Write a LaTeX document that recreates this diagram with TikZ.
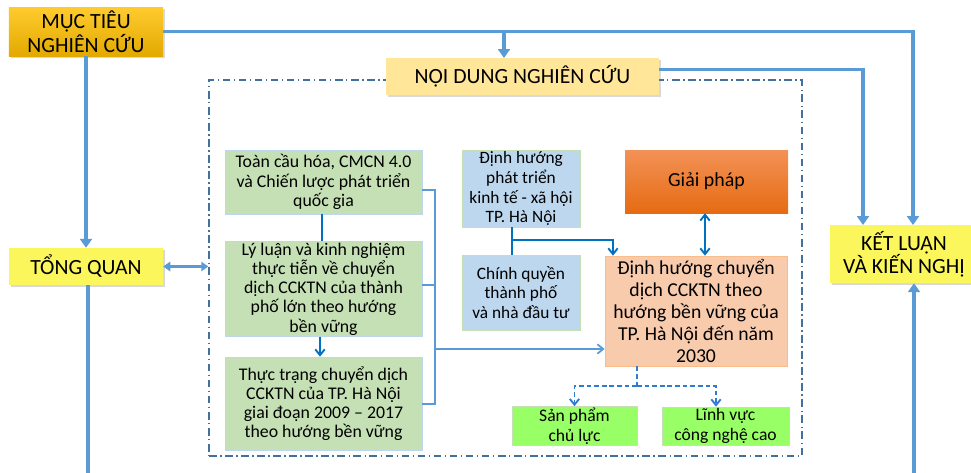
\documentclass[tikz,border=0pt]{standalone}
\usepackage{fontspec}
\setmainfont{Carlito}
\usetikzlibrary{arrows.meta, shadows}

\definecolor{lineblue}{HTML}{5B9BD5}
\definecolor{darkblue}{HTML}{0070C0}
\definecolor{dashblue}{HTML}{2E7BCF}
\definecolor{framecol}{HTML}{41719C}
\definecolor{goldtop}{HTML}{FFCB2E}
\definecolor{goldbot}{HTML}{E2A900}
\definecolor{paleyellow}{HTML}{FFE699}
\definecolor{brightyellow}{HTML}{FAF65C}
\definecolor{greenfill}{HTML}{C5E0B4}
\definecolor{bluefill}{HTML}{BDD7EE}
\definecolor{orangetop}{HTML}{F39257}
\definecolor{orangebot}{HTML}{E56B12}
\definecolor{peach}{HTML}{F8CBAD}
\definecolor{limegreen}{HTML}{99FF66}

\begin{document}
\begin{tikzpicture}[x=0.03cm, y=-0.03cm,
  box/.style={rectangle, align=center, inner sep=1pt},
  title/.style={box, font=\fontsize{18.5}{20}\selectfont,
    drop shadow={opacity=0.3, shadow xshift=1.5pt, shadow yshift=-1.5pt}},
  greenbox/.style={box, fill=greenfill, draw=lineblue!40, line width=0.6pt,
    minimum width=5.91cm, font=\fontsize{15.2}{16.4}\selectfont},
  bluebox/.style={box, fill=bluefill, draw=greenfill, line width=0.6pt,
    minimum width=3.54cm, font=\fontsize{14.8}{17}\selectfont},
  limebox/.style={box, fill=limegreen, draw=greenfill, line width=0.6pt,
    minimum height=1.14cm, font=\fontsize{15}{17}\selectfont},
  frame/.style={rectangle, draw=framecol, line width=1.2pt,
    dash pattern=on 6.5pt off 3pt on 1.2pt off 3pt},
  outer/.style={draw=lineblue, line width=2.8pt, -{Triangle[width=10pt,length=7.5pt]}},
  inner/.style={draw=darkblue, line width=1.6pt},
  brk/.style={draw=lineblue, line width=1.5pt},
  tip/.style={-{Straight Barb[width=8pt,length=5pt]}}
]
  \useasboundingbox (0,0) rectangle (971,473);

  \node[frame, minimum width=17.79cm, minimum height=11.28cm] (khung) at (505.5,268) {};

  % title boxes
  \node[title, top color=goldtop, bottom color=goldbot, minimum width=4.62cm, minimum height=1.47cm] (muctieu) at (86,31.5) {MỤC TIÊU\\ NGHIÊN CỨU};
  \node[title, fill=paleyellow, minimum width=8.19cm, minimum height=1.11cm] (noidung) at (522.5,76.5) {NỘI DUNG NGHIÊN CỨU};
  \node[title, fill=brightyellow, minimum width=4.62cm, minimum height=1.11cm] (tongquan) at (86,266.5) {TỔNG QUAN};
  \node[title, fill=brightyellow, minimum width=4.44cm, minimum height=1.74cm] (ketluan) at (904,254) {KẾT LUẬN\\ VÀ KIẾN NGHỊ};

  % inside the frame
  \node[greenbox, minimum height=1.92cm] (toancau) at (323.5,182) {Toàn cầu hóa, CMCN 4.0\\ và Chiến lược phát triển\\ quốc gia};
  \node[greenbox, minimum height=2.82cm] (lyluan) at (323.5,289) {Lý luận và kinh nghiệm\\ thực tiễn về chuyển\\ dịch CCKTN của thành\\ phố lớn theo hướng\\ bền vững};
  \node[greenbox, minimum height=2.79cm] (thuctrang) at (323.5,403.5) {Thực trạng chuyển dịch\\ CCKTN của TP. Hà Nội\\ giai đoạn 2009 – 2017\\ theo hướng bền vững};
  \node[bluebox, minimum height=2.31cm] (dhkinhte) at (521,188.5) {Định hướng\\ phát triển\\ kinh tế - xã hội\\ TP. Hà Nội};
  \node[bluebox, minimum height=2.25cm] (chinhquyen) at (521,292.5) {Chính quyền\\ thành phố\\ và nhà đầu tư};
  \node[box, top color=orangetop, bottom color=orangebot, minimum width=4.89cm, minimum height=1.89cm, font=\fontsize{17}{19}\selectfont] (giaiphap) at (706.5,181.5) {Giải pháp};
  \node[box, fill=peach, draw=peach!80!orange, line width=0.6pt, minimum width=5.46cm, minimum height=3.3cm, font=\fontsize{16.8}{18.6}\selectfont] (dinhhuong) at (696,311) {Định hướng chuyển\\ dịch CCKTN theo\\ hướng bền vững của\\ TP. Hà Nội đến năm\\ 2030};
  \node[limebox, minimum width=3.75cm] (sanpham) at (574.5,426) {Sản phẩm\\ chủ lực};
  \node[limebox, minimum width=3.81cm] (linhvuc) at (725.5,426) {Lĩnh vực\\ công nghệ cao};

  \coordinate (kl1) at (913,225);
  \coordinate (kl2) at (863,225);
  \coordinate (nd1) at (504,58);
  \coordinate (tqend) at (88,480);
  \coordinate (klend) at (914,480);
  \coordinate (br) at (435,349);
  \coordinate (bj) at (512,240);
  \coordinate (dd) at (637,386);

  % outer connectors
  \draw[outer] (muctieu.east) -| (kl1);
  \draw[outer] (nd1 |- muctieu.east) -- (nd1);
  \draw[outer] ([yshift=-0.36cm]noidung.north east) -| (kl2);
  \draw[outer] (muctieu.south) -- (tongquan.north);
  \draw[outer, -] (tqend |- tongquan.south) -- (tqend);
  \draw[outer] (klend) -- (klend |- ketluan.south);
  \draw[outer, line width=2pt, {Triangle[width=8pt,length=6pt]}-{Triangle[width=8pt,length=6pt]}] (tongquan.east) -- (tongquan.east -| khung.west);

  % bracket of the green boxes
  \draw[brk] (toancau.east |- 0,190) -- (br |- 0,190) -- (br |- 0,404) -- (thuctrang.east |- 0,404);
  \draw[brk] (lyluan.east |- 0,285) -- (br |- 0,285);
  \draw[brk, tip] (br) -- (br -| dinhhuong.west);

  \draw[inner] (toancau.south -| 322,0) -- (lyluan.north -| 322,0);
  \draw[inner, tip] (lyluan.south -| 320,0) -- (thuctrang.north -| 320,0);
  \draw[inner] (bj |- dhkinhte.south) -- (bj |- chinhquyen.north);
  \draw[inner, tip] (bj) -| (dinhhuong.north -| 613,0);
  \draw[inner, {Straight Barb[width=8pt,length=5pt]}-{Straight Barb[width=8pt,length=5pt]}] (giaiphap.south -| 705,0) -- (dinhhuong.north -| 705,0);
  \draw[inner, draw=dashblue, dash pattern=on 4pt off 2.5pt] (dd |- dinhhuong.south) -- (dd);
  \draw[inner, draw=dashblue, dash pattern=on 4pt off 2.5pt, tip] (dd) -| (sanpham.north);
  \draw[inner, draw=dashblue, dash pattern=on 4pt off 2.5pt, tip] (dd) -| (linhvuc.north -| 716,0);
\end{tikzpicture}
\end{document}
